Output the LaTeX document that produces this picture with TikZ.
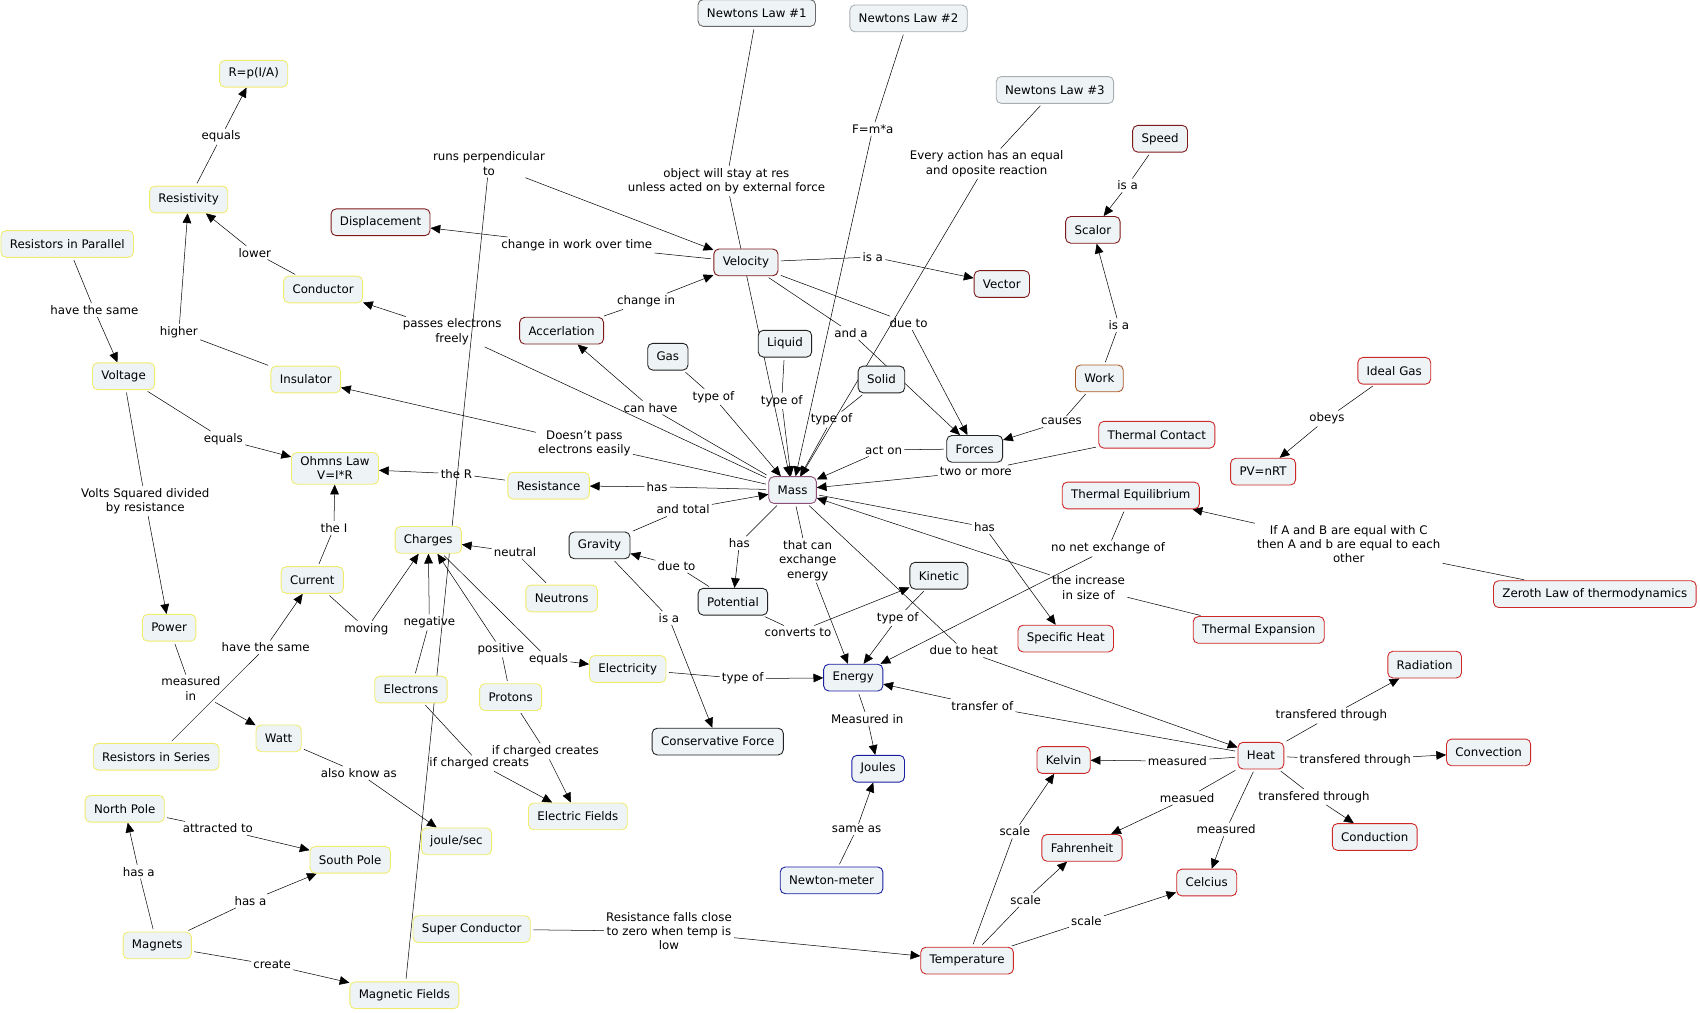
\documentclass[tikz,border=0pt]{standalone}
\usepackage{fontspec}
\setmainfont{DejaVu Sans}
\usepackage{tikz}
\usetikzlibrary{arrows.meta}
\pgfdeclarelayer{background}
\pgfsetlayers{background,main}

\definecolor{cfill}{RGB}{238,243,245}
\definecolor{cyel}{RGB}{240,236,110}
\definecolor{cred}{RGB}{205,40,40}
\definecolor{cdred}{RGB}{125,25,25}
\definecolor{cblue}{RGB}{25,30,160}
\definecolor{cdark}{RGB}{35,35,35}
\definecolor{cgrey}{RGB}{105,105,105}
\definecolor{clgrey}{RGB}{168,174,178}
\definecolor{cpurple}{RGB}{140,80,120}
\definecolor{cbrown}{RGB}{170,90,40}

\begin{document}
\begin{tikzpicture}
  [x=0.03cm, y=-0.03cm, line width=0.65pt, >={Triangle[length=2.7mm,width=2.4mm]},
   every node/.style={font=\fontsize{9.3}{11.2}\selectfont, align=center},
   concept/.style={draw, rounded corners=4pt, fill=cfill, inner xsep=7pt, minimum height=0.74cm, line width=0.7pt},
   ycon/.style={concept, draw=cyel},
   rcon/.style={concept, draw=cred},
   dcon/.style={concept, draw=cdred},
   bcon/.style={concept, draw=cblue},
   kcon/.style={concept, draw=cdark},
   link/.style={inner sep=1.5pt}]
  \useasboundingbox (0,0) rectangle (1568,934);

  % concepts
  \node[concept, draw=cgrey] (nl1) at (698,12) {Newtons Law \#1};
  \node[concept, draw=clgrey] (nl2) at (838,17) {Newtons Law \#2};
  \node[concept, draw=clgrey] (nl3) at (973,83) {Newtons Law \#3};
  \node[ycon] (rpia) at (234,68) {R=p(I/A)};
  \node[dcon] (speed) at (1070,128) {Speed};
  \node[ycon] (resy) at (174,184) {Resistivity};
  \node[dcon] (scalor) at (1008,212) {Scalor};
  \node[dcon] (disp) at (351,205) {Displacement};
  \node[ycon] (rpar) at (62,225) {Resistors in Parallel};
  \node[dcon] (vel) at (688,242) {Velocity};
  \node[dcon] (vector) at (924,262) {Vector};
  \node[ycon] (cond) at (298,267) {Conductor};
  \node[dcon] (accel) at (518,305) {Accerlation};
  \node[kcon] (gas) at (616,329) {Gas};
  \node[kcon] (liquid) at (724,317) {Liquid};
  \node[kcon] (solid) at (813,350) {Solid};
  \node[concept, draw=cbrown] (work) at (1014,349) {Work};
  \node[rcon] (igas) at (1286,342) {Ideal Gas};
  \node[ycon] (volt) at (114,347) {Voltage};
  \node[ycon] (insul) at (282,350) {Insulator};
  \node[rcon] (tcontact) at (1067,401) {Thermal Contact};
  \node[kcon] (forces) at (899,414) {Forces};
  \node[rcon] (pv) at (1165,435) {PV=nRT};
  \node[ycon] (ohm) at (309,432) {Ohmns Law\\V=I*R};
  \node[ycon] (resist) at (506,448) {Resistance};
  \node[concept, draw=cpurple] (mass) at (731,452) {Mass};
  \node[rcon] (tequil) at (1043,457) {Thermal Equilibrium};
  \node[ycon] (charges) at (395,498) {Charges};
  \node[kcon] (gravity) at (553,503) {Gravity};
  \node[ycon] (neutrons) at (518,552) {Neutrons};
  \node[ycon] (current) at (288,535) {Current};
  \node[kcon] (kinetic) at (866,531) {Kinetic};
  \node[kcon] (potential) at (676,555) {Potential};
  \node[rcon] (zeroth) at (1471,548) {Zeroth Law of thermodynamics};
  \node[ycon] (power) at (156,579) {Power};
  \node[rcon] (texp) at (1161,581) {Thermal Expansion};
  \node[rcon] (sheat) at (983,589) {Specific Heat};
  \node[ycon] (elec) at (579,617) {Electricity};
  \node[rcon] (rad) at (1314,613) {Radiation};
  \node[bcon] (energy) at (787,625) {Energy};
  \node[ycon] (electrons) at (379,636) {Electrons};
  \node[ycon] (protons) at (471,643) {Protons};
  \node[kcon] (cforce) at (662,684) {Conservative Force};
  \node[ycon] (watt) at (257,681) {Watt};
  \node[ycon] (rser) at (144,698) {Resistors in Series};
  \node[rcon] (heat) at (1163,697) {Heat};
  \node[rcon] (convec) at (1373,694) {Convection};
  \node[rcon] (kelvin) at (981,701) {Kelvin};
  \node[bcon] (joules) at (810,709) {Joules};
  \node[ycon] (npole) at (115,746) {North Pole};
  \node[ycon] (efields) at (533,753) {Electric Fields};
  \node[rcon] (conduc) at (1268,772) {Conduction};
  \node[ycon] (jsec) at (421,776) {joule/sec};
  \node[rcon] (fahr) at (998,782) {Fahrenheit};
  \node[ycon] (spole) at (323,793) {South Pole};
  \node[bcon] (nmeter) at (767,812) {Newton-meter};
  \node[rcon] (celcius) at (1113,814) {Celcius};
  \node[ycon] (sconduct) at (435,857) {Super Conductor};
  \node[ycon] (magnets) at (145,872) {Magnets};
  \node[rcon] (temp) at (892,886) {Temperature};
  \node[ycon] (mfields) at (373,918) {Magnetic Fields};

  % linking phrases
  \node[link] (equalsa) at (204,126) {equals};
  \node[link] (lower) at (235,233) {lower};
  \node[link] (higher) at (165,306) {higher};
  \node[link] (hsamea) at (87,286) {have the same};
  \node[link] (equalsb) at (206,405) {equals};
  \node[link] (vsq) at (134,462) {Volts Squared divided\\by resistance};
  \node[link] (measin) at (176,635) {measured\\in};
  \node[link] (aka) at (331,713) {also know as};
  \node[link] (hsameb) at (245,597) {have the same};
  \node[link] (theI) at (308,487) {the I};
  \node[link] (moving) at (338,580) {moving};
  \node[link] (theR) at (421,437) {the R};
  \node[link] (neutral) at (475,509) {neutral};
  \node[link] (negative) at (396,574) {negative};
  \node[link] (positive) at (462,599) {positive};
  \node[link] (equalsc) at (506,608) {equals};
  \node[link] (ifcca) at (442,704) {if charged creats};
  \node[link] (ifccb) at (503,693) {if charged creates};
  \node[link] (attr) at (201,764) {attracted to};
  \node[link] (hasaa) at (128,804) {has a};
  \node[link] (hasab) at (231,831) {has a};
  \node[link] (create) at (251,890) {create};
  \node[link] (runs) at (451,151) {runs perpendicular\\to};
  \node[link] (rfall) at (617,859) {Resistance falls close\\to zero when temp is\\low};
  \node[link] (cwork) at (532,226) {change in work over time};
  \node[link] (chin) at (596,278) {change in};
  \node[link] (isaa) at (805,237) {is a};
  \node[link] (duetoa) at (838,298) {due to};
  \node[link] (anda) at (785,307) {and a};
  \node[link] (obj) at (670,167) {object will stay at res\\unless acted on by external force};
  \node[link] (fma) at (805,119) {F=m*a};
  \node[link] (every) at (910,151) {Every action has an equal\\and oposite reaction};
  \node[link] (isab) at (1040,171) {is a};
  \node[link] (isac) at (1032,300) {is a};
  \node[link] (causes) at (979,389) {causes};
  \node[link] (obeys) at (1224,386) {obeys};
  \node[link] (twom) at (900,435) {two or more};
  \node[link] (acton) at (815,415) {act on};
  \node[link] (typeg) at (658,366) {type of};
  \node[link] (typel) at (721,370) {type of};
  \node[link] (types) at (767,387) {type of};
  \node[link] (canhave) at (600,376) {can have};
  \node[link] (dpass) at (539,409) {Doesn't pass\\electrons easily};
  \node[link] (pfree) at (417,306) {passes electrons\\freely};
  \node[link] (hasra) at (606,449) {has};
  \node[link] (andtotal) at (630,470) {and total};
  \node[link] (hasrb) at (682,501) {has};
  \node[link] (exch) at (745,517) {that can\\exchange\\energy};
  \node[link] (hasrc) at (908,486) {has};
  \node[link] (incr) at (1004,542) {the increase\\in size of};
  \node[link] (dheat) at (889,600) {due to heat};
  \node[link] (duetob) at (624,522) {due to};
  \node[link] (isad) at (617,570) {is a};
  \node[link] (convto) at (736,583) {converts to};
  \node[link] (typek) at (828,570) {type of};
  \node[link] (nonet) at (1022,506) {no net exchange of};
  \node[link] (typee) at (685,626) {type of};
  \node[link] (trof) at (906,651) {transfer of};
  \node[link] (measinb) at (800,663) {Measured in};
  \node[link] (sameas) at (790,765) {same as};
  \node[link] (ifab) at (1244,502) {If A and B are equal with C\\then A and b are equal to each\\other};
  \node[link] (tta) at (1228,660) {transfered through};
  \node[link] (ttb) at (1250,701) {transfered through};
  \node[link] (ttc) at (1212,735) {transfered through};
  \node[link] (measa) at (1086,702) {measured};
  \node[link] (measb) at (1095,736) {measued};
  \node[link] (measc) at (1131,765) {measured};
  \node[link] (scalea) at (936,767) {scale};
  \node[link] (scaleb) at (946,830) {scale};
  \node[link] (scalec) at (1002,850) {scale};

  % connectors
  \begin{pgfonlayer}{background}
  \foreach \from/\via/\to in {resy/equalsa/rpia, cond/lower/resy, insul/higher/resy,
      rpar/hsamea/volt, volt/equalsb/ohm, volt/vsq/power, power/measin/watt,
      watt/aka/jsec, rser/hsameb/current, current/theI/ohm, current/moving/charges,
      resist/theR/ohm, neutrons/neutral/charges, electrons/negative/charges,
      protons/positive/charges, charges/equalsc/elec, electrons/ifcca/efields,
      protons/ifccb/efields, npole/attr/spole, magnets/hasaa/npole, magnets/hasab/spole,
      magnets/create/mfields, mfields/runs/vel, sconduct/rfall/temp,
      vel/cwork/disp, accel/chin/vel, vel/isaa/vector, vel/duetoa/forces, vel/anda/forces,
      nl1/obj/mass, nl2/fma/mass, nl3/every/mass, speed/isab/scalor, work/isac/scalor,
      work/causes/forces, igas/obeys/pv, tcontact/twom/mass, forces/acton/mass,
      gas/typeg/mass, liquid/typel/mass, solid/types/mass, mass/canhave/accel,
      mass/dpass/insul, mass/pfree/cond, mass/hasra/resist, gravity/andtotal/mass,
      mass/hasrb/potential, mass/exch/energy, mass/hasrc/sheat, texp/incr/mass,
      mass/dheat/heat, potential/duetob/gravity, gravity/isad/cforce,
      potential/convto/kinetic, kinetic/typek/energy, tequil/nonet/energy,
      elec/typee/energy, heat/trof/energy, energy/measinb/joules, nmeter/sameas/joules,
      zeroth/ifab/tequil, heat/tta/rad, heat/ttb/convec, heat/ttc/conduc,
      heat/measa/kelvin, heat/measb/fahr, heat/measc/celcius,
      temp/scalea/kelvin, temp/scaleb/fahr, temp/scalec/celcius}
    {
      \draw[shorten <=2pt] (\from) -- (\via);
      \draw[->] (\via) -- (\to);
    }
  \end{pgfonlayer}
\end{tikzpicture}
\end{document}
